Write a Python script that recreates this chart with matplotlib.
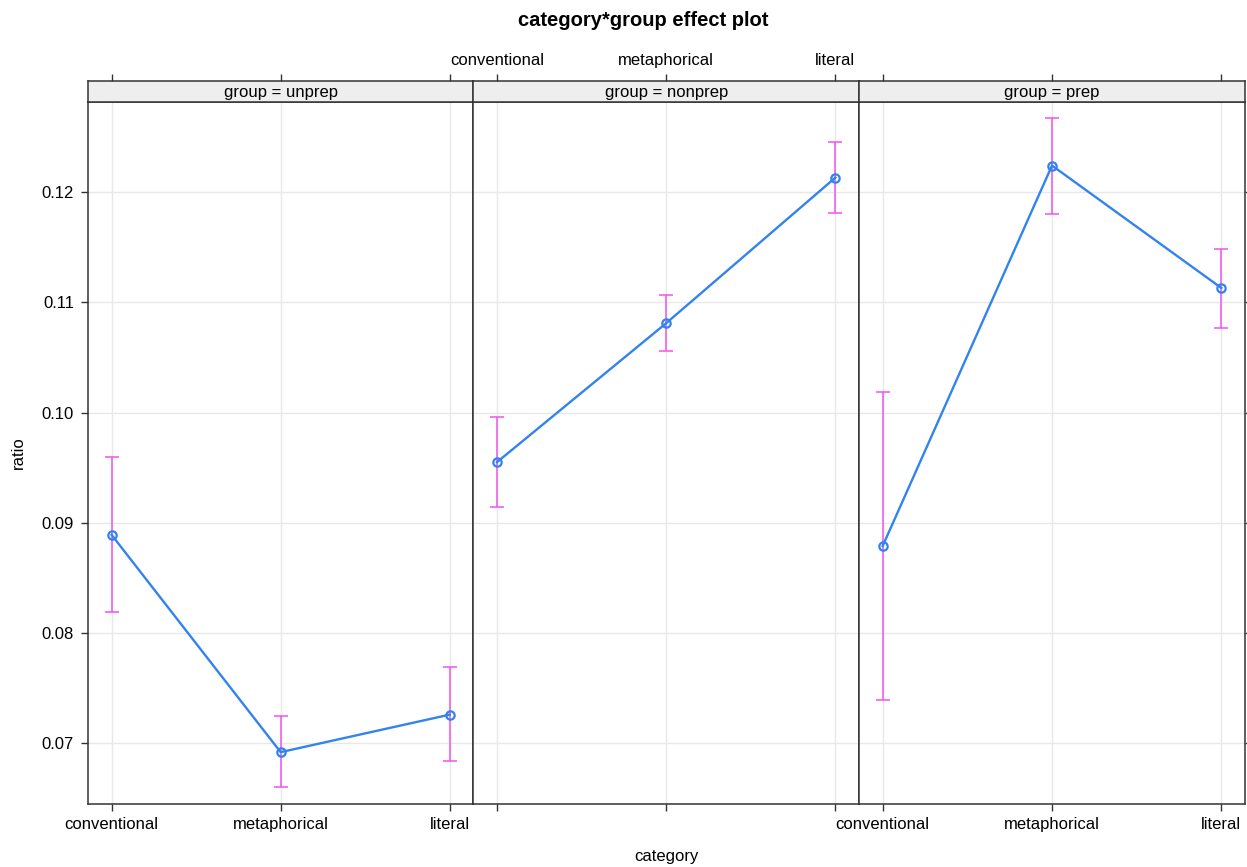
import matplotlib
matplotlib.use('Agg')
import matplotlib.pyplot as plt

plt.rcParams['font.family'] = ['Liberation Sans', 'DejaVu Sans']

# Данные эффект-плота
categories = ['conventional', 'metaphorical', 'literal']
groups = ['unprep', 'nonprep', 'prep']
fit = {
    'unprep': [0.0889, 0.0692, 0.0726],
    'nonprep': [0.0955, 0.1081, 0.1213],
    'prep': [0.0879, 0.1224, 0.1113],
}
lower = {
    'unprep': [0.0819, 0.0660, 0.0684],
    'nonprep': [0.0914, 0.1056, 0.1181],
    'prep': [0.0739, 0.1180, 0.1077],
}
upper = {
    'unprep': [0.0960, 0.0725, 0.0769],
    'nonprep': [0.0996, 0.1107, 0.1245],
    'prep': [0.1019, 0.1267, 0.1148],
}
yticks = [0.07, 0.08, 0.09, 0.10, 0.11, 0.12]
ytick_labels = ['0.07', '0.08', '0.09', '0.10', '0.11', '0.12']

W, H = 1247, 867
fig = plt.figure(figsize=(W / 100, H / 100), dpi=100)

def fa(x0, y0, x1, y1):
    # пиксели -> координаты фигуры
    return [x0 / W, 1 - y1 / H, (x1 - x0) / W, (y1 - y0) / H]

x_edges = [88, 473.3, 859, 1245]
top_strip, top_panel, bottom_panel = 80.7, 101.7, 804.3
frame_col = '#333333'
line_col = '#3383EE'
err_col = '#F052F0'
tick_len = 5
fs = 12
xlim = (0.86, 3.14)

xs = [1, 2, 3]
for i, g in enumerate(groups):
    x0, x1 = x_edges[i], x_edges[i + 1]
    ax = fig.add_axes(fa(x0, top_panel, x1, bottom_panel))
    strip = fig.add_axes(fa(x0, top_strip, x1, top_panel))

    yerr = [[f - l for f, l in zip(fit[g], lower[g])],
            [u - f for f, u in zip(fit[g], upper[g])]]
    ax.errorbar(xs, fit[g], yerr=yerr, fmt='none', ecolor=err_col,
                elinewidth=1.1, capsize=4.7, capthick=1.1, zorder=2)
    ax.plot(xs, fit[g], color=line_col, lw=1.7, marker='o', ms=6,
            mfc='none', mec=line_col, mew=1.6, zorder=3)

    ax.set_xlim(*xlim)
    ax.set_ylim(0.06447, 0.12819)
    ax.set_xticks(xs)
    ax.set_xticklabels(categories)
    ax.set_yticks(yticks)
    ax.set_yticklabels(ytick_labels)
    ax.grid(True, color='#e8e8e8', lw=1)
    ax.set_axisbelow(True)
    for sp in ax.spines.values():
        sp.set_color(frame_col)
        sp.set_linewidth(1.1)

    # нижние подписи только у 1-й и 3-й панели
    ax.tick_params(axis='x', direction='out', length=tick_len, width=1,
                   color=frame_col, labelsize=fs, pad=4,
                   labelbottom=(i != 1), top=False)
    if i == 0:
        ax.tick_params(axis='y', direction='out', length=tick_len, width=1,
                       color=frame_col, labelsize=fs, pad=5, left=True, right=False)
    elif i == 2:
        ax.tick_params(axis='y', direction='out', length=tick_len, width=1,
                       color=frame_col, left=False, right=True,
                       labelleft=False, labelright=False)
    else:
        ax.tick_params(axis='y', left=False, right=False, labelleft=False)

    # полоска с названием группы, верхние тики на ней
    strip.set_xlim(*xlim)
    strip.set_xticks(xs)
    strip.set_xticklabels(categories)
    strip.set_facecolor('#EEEEEE')
    strip.set_yticks([])
    for sp in strip.spines.values():
        sp.set_color(frame_col)
        sp.set_linewidth(1.1)
    strip.tick_params(axis='x', direction='out', length=tick_len, width=1,
                      color=frame_col, labelsize=fs, pad=4,
                      bottom=False, labelbottom=False, top=True,
                      labeltop=(i == 1))
    strip.text(0.5, 0.45, f'group = {g}', transform=strip.transAxes,
               ha='center', va='center', fontsize=fs)

fig.text(643 / W, 1 - 20 / H, 'category*group effect plot', ha='center',
         va='center', fontsize=14.5, fontweight='bold')
fig.text(666 / W, 1 - 856 / H, 'category', ha='center', va='center', fontsize=fs)
fig.text(18 / W, 1 - 453 / H, 'ratio', ha='center', va='center',
         rotation=90, fontsize=fs)

fig.savefig('out.png', dpi=100)
